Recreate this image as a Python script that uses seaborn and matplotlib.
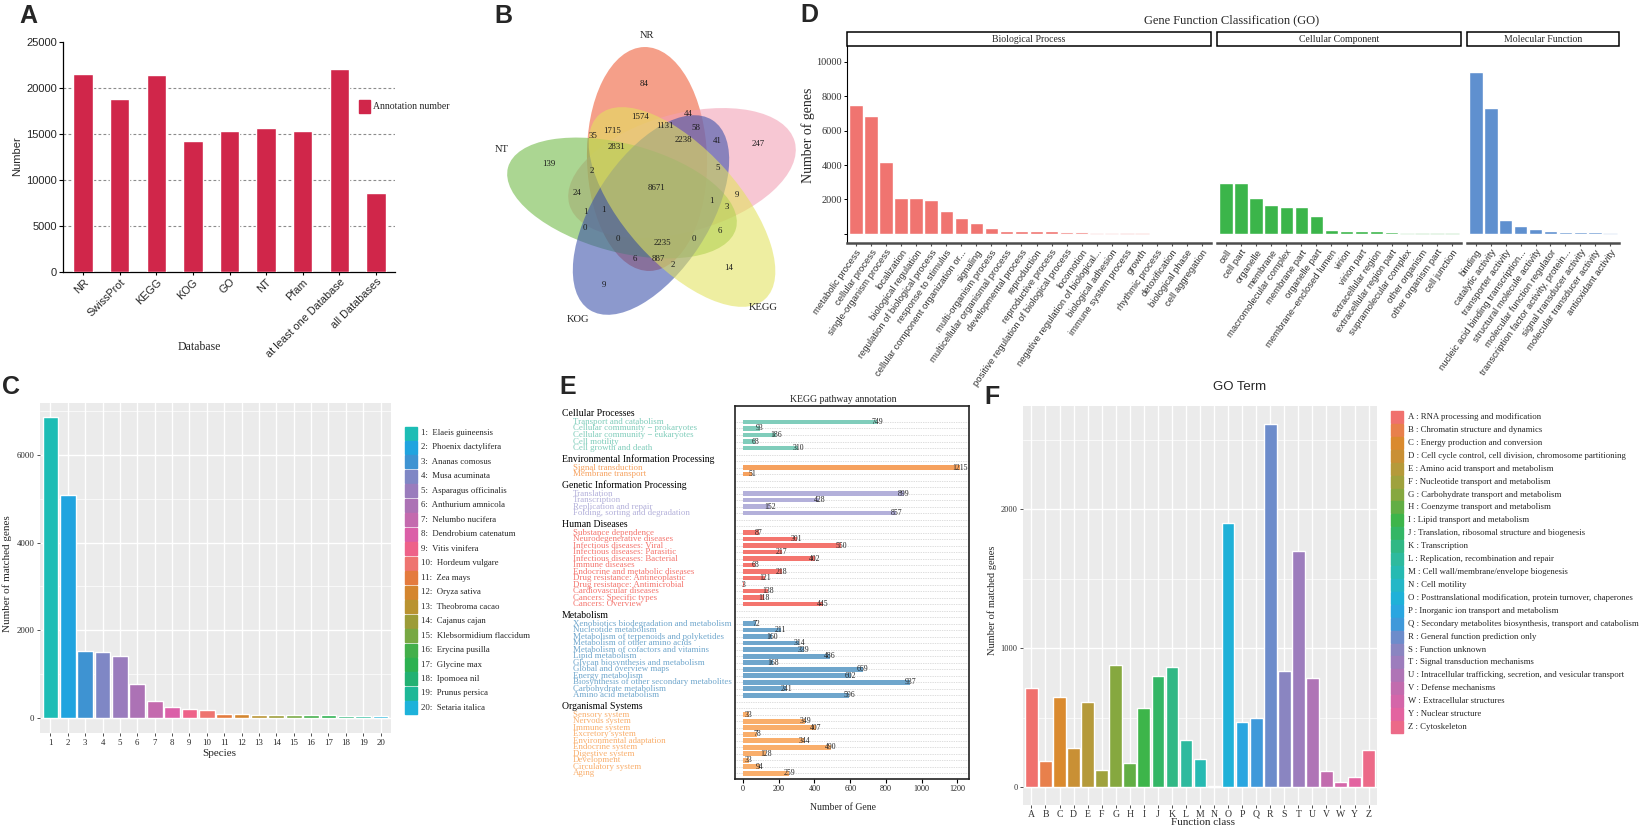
import numpy as np
import pandas as pd
import matplotlib
matplotlib.use("Agg")
import matplotlib.pyplot as plt
import matplotlib.transforms as mtransforms
from matplotlib.patches import Ellipse, Rectangle
from matplotlib.ticker import FixedLocator
import seaborn as sns

# ---------------------------------------------------------------- data
db_names = ["NR", "SwissProt", "KEGG", "KOG", "GO", "NT", "Pfam",
            "at least one Database", "all Databases"]
db_counts = [21560, 18770, 21380, 14200, 15330, 15690, 15330, 22100, 8590]

venn_names = ["NR", "NT", "KOG", "KEGG"]
venn_counts = [84, 1574, 44, 1131, 58, 35, 1715, 2238, 41, 2831, 139, 2, 5, 8671,
               24, 9, 1, 3, 1, 1, 0, 6, 0, 2235, 0, 6, 887, 2, 14, 9, 247]

species_names = ["Elaeis guineensis", "Phoenix dactylifera", "Ananas comosus",
                 "Musa acuminata", "Asparagus officinalis", "Anthurium amnicola",
                 "Nelumbo nucifera", "Dendrobium catenatum", "Vitis vinifera",
                 "Hordeum vulgare", "Zea mays", "Oryza sativa", "Theobroma cacao",
                 "Cajanus cajan", "Klebsormidium flaccidum", "Erycina pusilla",
                 "Glycine max", "Ipomoea nil", "Prunus persica", "Setaria italica"]
species_counts = [6860, 5080, 1520, 1500, 1420, 776, 395, 243, 198, 183,
                  99, 91, 76, 70, 68, 62, 60, 55, 52, 50]

bp_terms = ["metabolic process", "cellular process", "single-organism process",
            "localization", "biological regulation", "regulation of biological process",
            "response to stimulus", "cellular component organization or...", "signaling",
            "multi-organism process", "multicellular organismal process",
            "developmental process", "reproduction", "reproductive process",
            "positive regulation of biological process", "locomotion",
            "negative regulation of biological...", "biological adhesion",
            "immune system process", "growth", "rhythmic process", "detoxification",
            "biological phase", "cell aggregation"]
bp_counts = [7478, 6860, 4193, 2068, 2068, 1990, 1353, 908, 657, 348, 193, 174,
             155, 155, 97, 97, 77, 77, 58, 40, 20, 20, 15, 5]
cc_terms = ["cell", "cell part", "organelle", "membrane", "macromolecular complex",
            "membrane part", "organelle part", "membrane\u2212enclosed lumen", "virion",
            "virion part", "extracellular region", "extracellular region part",
            "supramolecular complex", "other organism", "other organism part",
            "cell junction"]
cc_counts = [2957, 2957, 2106, 1662, 1565, 1565, 1043, 251, 174, 174, 174, 135,
             77, 58, 58, 39]
mf_terms = ["binding", "catalytic activity", "transporter activity",
            "nucleic acid binding transcription...", "structural molecule activity",
            "molecular function regulator", "transcription factor activity, protein...",
            "signal transducer activity", "molecular transducer activity",
            "antioxidant activity"]
mf_counts = [9411, 7324, 792, 464, 309, 193, 116, 116, 116, 77]

kegg_groups = ["Cellular Processes", "Environmental Information Processing",
               "Genetic Information Processing", "Human Diseases", "Metabolism",
               "Organismal Systems"]
kegg_cp = ["Transport and catabolism", "Cellular community \u2212 prokaryotes",
           "Cellular community \u2212 eukaryotes", "Cell motility", "Cell growth and death"]
kegg_cp_n = [749, 93, 186, 68, 310]
kegg_eip = ["Signal transduction", "Membrane transport"]
kegg_eip_n = [1215, 51]
kegg_gip = ["Translation", "Transcription", "Replication and repair",
            "Folding, sorting and degradation"]
kegg_gip_n = [899, 428, 152, 857]
kegg_hd = ["Substance dependence", "Neurodegenerative diseases",
           "Infectious diseases: Viral", "Infectious diseases: Parasitic",
           "Infectious diseases: Bacterial", "Immune diseases",
           "Endocrine and metabolic diseases", "Drug resistance: Antineoplastic",
           "Drug resistance: Antimicrobial", "Cardiovascular diseases",
           "Cancers: Specific types", "Cancers: Overview"]
kegg_hd_n = [87, 301, 550, 217, 402, 68, 218, 121, 3, 138, 118, 445]
kegg_met = ["Xenobiotics biodegradation and metabolism", "Nucleotide metabolism",
            "Metabolism of terpenoids and polyketides", "Metabolism of other amino acids",
            "Metabolism of cofactors and vitamins", "Lipid metabolism",
            "Glycan biosynthesis and metabolism", "Global and overview maps",
            "Energy metabolism", "Biosynthesis of other secondary metabolites",
            "Carbohydrate metabolism", "Amino acid metabolism"]
kegg_met_n = [72, 211, 160, 314, 339, 486, 168, 669, 602, 937, 241, 596]
kegg_os = ["Sensory system", "Nervous system", "Immune system", "Excretory system",
           "Environmental adaptation", "Endocrine system", "Digestive system",
           "Development", "Circulatory system", "Aging"]
kegg_os_n = [33, 349, 407, 78, 344, 490, 128, 33, 94, 259]

kog_classes = list("ABCDEFGHIJKLMNOPQRSTUVWYZ")
kog_counts = [717, 189, 650, 283, 611, 127, 880, 173, 568, 799, 863, 341, 201, 10,
              1899, 472, 501, 2616, 839, 1698, 787, 120, 38, 74, 269]
kog_desc = ["RNA processing and modification", "Chromatin structure and dynamics",
            "Energy production and conversion",
            "Cell cycle control, cell division, chromosome partitioning",
            "Amino acid transport and metabolism", "Nucleotide transport and metabolism",
            "Carbohydrate transport and metabolism", "Coenzyme transport and metabolism",
            "Lipid transport and metabolism",
            "Translation, ribosomal structure and biogenesis", "Transcription",
            "Replication, recombination and repair",
            "Cell wall/membrane/envelope biogenesis", "Cell motility",
            "Posttranslational modification, protein turnover, chaperones",
            "Inorganic ion transport and metabolism",
            "Secondary metabolites biosynthesis, transport and catabolism",
            "General function prediction only", "Function unknown",
            "Signal transduction mechanisms",
            "Intracellular trafficking, secretion, and vesicular transport",
            "Defense mechanisms", "Extracellular structures", "Nuclear structure",
            "Cytoskeleton"]

# ---------------------------------------------------------------- colours
species_colors = ["#1DBDB5", "#20A4DF", "#3E93D2", "#7F87C5", "#9A7CBD", "#AC72B5",
                  "#C46AAE", "#DB5FA8", "#EE6289", "#EE7470", "#E47B3E", "#D4862F",
                  "#B99331", "#9C9C38", "#78A843", "#43AF4A", "#2DB150", "#22B172",
                  "#1DB897", "#1DB2DA"]
kog_colors = ["#F0716E", "#E8804C", "#DA8A2E", "#C99035", "#B59A3A", "#9FA23D",
              "#86A83F", "#62AE44", "#3DB54A", "#33B665", "#31B885", "#2EBA9E",
              "#26BAB2", "#24B7C7", "#1FB1D8", "#2AA6E0", "#3F99DA", "#6D8CCB",
              "#8A85C1", "#9D7DBD", "#AF74B6", "#C26CAE", "#D466A9", "#E363A0",
              "#EC6A88"]
go_colors = ["#F07470", "#3BB54A", "#5F90CF"]
kegg_colors = ["#80CDBB", "#F6A15E", "#B3B0DA", "#F4756E", "#6FA6CC", "#F9AE6B"]

# ---------------------------------------------------------------- style
sns.set_theme(style="white")
plt.rcParams["font.family"] = ["Liberation Sans", "DejaVu Sans"]
plt.rcParams["axes.unicode_minus"] = False
SERIF = ["Liberation Serif", "DejaVu Serif"]
SANS = ["Liberation Sans", "DejaVu Sans"]

W, H = 1641, 827
fig = plt.figure(figsize=(W / 100, H / 100), dpi=100)


def rect(x0, y0, x1, y1):
    return [x0 / W, 1 - y1 / H, (x1 - x0) / W, (y1 - y0) / H]


# overlay in pixel coordinates for free text / venn / legends
ov = fig.add_axes([0, 0, 1, 1], zorder=10)
ov.set_xlim(0, W)
ov.set_ylim(H, 0)
ov.axis("off")


def T(x, y, s, ha="center", va="center", **kw):
    ov.text(x, y, s, ha=ha, va=va, **kw)


for L, x, y in [("A", 28, 16), ("B", 503, 16), ("D", 809, 15),
                ("C", 11, 387), ("E", 568, 387), ("F", 992, 397)]:
    T(x, y, L, fontsize=18, fontweight="bold", family=SANS)

# ---------------------------------------------------------------- A
axA = fig.add_axes(rect(63, 42, 395, 272))
dfA = pd.DataFrame({"db": db_names, "n": db_counts})
sns.barplot(data=dfA, x="db", y="n", color="#D0264A", saturation=1, width=0.53,
            ax=axA, zorder=3)
axA.set_ylim(0, 25000)
axA.set_xlim(-0.55, 8.52)
for yv in (5000, 10000, 15000, 20000):
    axA.axhline(yv, color="#8C8C8C", lw=0.8, ls=(0, (2.5, 2)), zorder=1)
axA.set_yticks(range(0, 25001, 5000))
axA.tick_params(axis="y", labelsize=8, length=3, width=0.8, left=True, color="black", pad=1.5)
axA.tick_params(axis="x", labelsize=7.8, length=2.5, width=0.8, bottom=True, color="black", pad=1)
for lab in axA.get_xticklabels():
    lab.set_rotation(45)
    lab.set_ha("right")
    lab.set_rotation_mode("anchor")
sns.despine(ax=axA)
for s in ("left", "bottom"):
    axA.spines[s].set_color("black")
    axA.spines[s].set_linewidth(0.9)
axA.set_xlabel("")
axA.set_ylabel("")
T(17, 156, "Number", rotation=90, fontsize=8, family=SANS)
T(199, 347, "Database", fontsize=8.5, family=SERIF)
ov.add_patch(Rectangle((359, 100), 11, 13, color="#D0264A"))
T(373, 106.5, "Annotation number", ha="left", fontsize=7, family=SERIF)

# ---------------------------------------------------------------- B (venn)
venn_ellipses = [  # (cx, cy, major, minor, visual angle, colour)
    (647, 159, 224, 120, 91.5, "#EE5A34"),
    (682, 173, 234, 118, 15.6, "#F2A0B4"),
    (622, 198, 236, 108, -15.0, "#6EB944"),
    (651, 215, 226, 115, 57.0, "#3A50AA"),
    (682, 207, 248, 115, -48.0, "#E3E35D"),
]
for cx, cy, ma, mi, ang, col in venn_ellipses:
    ov.add_patch(Ellipse((cx, cy), ma, mi, angle=-ang, facecolor=col, alpha=0.58,
                         edgecolor="none"))
venn_xy = [(644, 84), (640, 117), (688, 114), (665, 126), (696, 128), (593, 136),
           (612, 131), (683, 140), (717, 141), (616, 147), (549, 164), (592, 171),
           (718, 168), (657, 188), (577, 193), (737, 195), (711, 201), (727, 207),
           (585, 212), (603, 210), (585, 228), (720, 231), (618, 239), (662, 243),
           (694, 239), (635, 259), (658, 259), (673, 265), (729, 268), (604, 285),
           (758, 144)]
for (x, y), n in zip(venn_xy, venn_counts):
    T(x, y, str(n), fontsize=6.3, family=SERIF, color="#1a1a1a")
for name, (x, y) in zip(venn_names, [(647, 35), (502, 149), (578, 320), (763, 307)]):
    T(x, y, name, fontsize=7.6, family=SERIF)

# ---------------------------------------------------------------- C
axC = fig.add_axes(rect(40, 403, 391, 733))
sp_idx = [str(i) for i in range(1, len(species_names) + 1)]
sp_leg = [f"{i}:  {n}" for i, n in zip(sp_idx, species_names)]
dfC = pd.DataFrame({"sp": sp_idx, "n": species_counts})
sns.barplot(data=dfC, x="sp", y="n", hue="sp", palette=species_colors, legend=False,
            width=0.9, saturation=1, ax=axC)
axC.set_facecolor("#EBEBEB")
axC.set_xlim(-0.6, 19.6)
axC.set_ylim(-342, 7186)
axC.set_yticks([0, 2000, 4000, 6000])
axC.yaxis.set_minor_locator(FixedLocator([1000, 3000, 5000, 7000]))
axC.grid(True, which="major", color="white", lw=1.0)
axC.grid(True, which="minor", axis="y", color="white", lw=0.5)
axC.set_axisbelow(True)
for s in axC.spines.values():
    s.set_visible(False)
axC.tick_params(which="major", labelsize=6.3, length=2.5, color="#333333", width=0.6,
                bottom=True, left=True, pad=1.5)
axC.tick_params(which="minor", length=0)
for lab in axC.get_xticklabels() + axC.get_yticklabels():
    lab.set_fontfamily(SERIF)
axC.set_xlabel("")
axC.set_ylabel("")
T(7, 574, "Number of matched genes", rotation=90, fontsize=8, family=SERIF)
T(219, 754, "Species", fontsize=8, family=SERIF)
for i, (lab, col) in enumerate(zip(sp_leg, species_colors)):
    y = 433 + 14.47 * i
    ov.add_patch(Rectangle((405, y - 6.5), 12, 13, color=col))
    T(421, y, lab, ha="left", fontsize=6.3, family=SERIF)

# ---------------------------------------------------------------- D
T(1232, 20, "Gene Function Classification (GO)", fontsize=9, family=SERIF)
T(808, 135, "Number of genes", rotation=90, fontsize=10, family=SERIF)
d_panels = [("Biological Process", bp_terms, bp_counts, 847, 1211, go_colors[0]),
            ("Cellular Component", cc_terms, cc_counts, 1217, 1461, go_colors[1]),
            ("Molecular Function", mf_terms, mf_counts, 1467, 1619, go_colors[2])]
for k, (strip, terms, counts, x0, x1, col) in enumerate(d_panels):
    ax = fig.add_axes(rect(x0, 46, x1, 243))
    df = pd.DataFrame({"term": terms, "n": counts})
    sns.barplot(data=df, x="term", y="n", color=col, width=0.9, saturation=1, ax=ax)
    for p, v in zip(ax.patches, counts):
        p.set_alpha(float(np.clip(v / 100.0, 0.12, 1.0)))
    ax.set_ylim(-522, 10899)
    ax.set_xlim(-0.6, len(terms) - 0.4)
    ax.spines["top"].set_visible(False)
    ax.spines["right"].set_visible(False)
    ax.spines["bottom"].set_color("#4D4D4D")
    ax.spines["bottom"].set_linewidth(1.8)
    if k == 0:
        ax.set_yticks(range(0, 10001, 2000))
        ax.set_yticklabels([""] + [str(v) for v in range(2000, 10001, 2000)])
        ax.spines["left"].set_color("black")
        ax.spines["left"].set_linewidth(0.8)
        ax.tick_params(axis="y", left=True, length=2.5, width=0.7, color="black",
                       labelsize=7.4, labelcolor="#333333", pad=1)
        for lab in ax.get_yticklabels():
            lab.set_fontfamily(SERIF)
    else:
        ax.set_yticks([])
        ax.spines["left"].set_visible(False)
    ax.tick_params(axis="x", bottom=True, length=2.5, width=0.8, color="#4D4D4D",
                   labelsize=6.8, labelcolor="#333333", pad=1)
    for lab in ax.get_xticklabels():
        lab.set_rotation(55)
        lab.set_ha("right")
        lab.set_rotation_mode("anchor")
    ax.set_xlabel("")
    ax.set_ylabel("")
    ov.add_patch(Rectangle((x0, 32), x1 - x0, 14, fill=False, edgecolor="black", lw=1.1))
    T((x0 + x1) / 2, 39, strip, fontsize=7, family=SERIF)

# ---------------------------------------------------------------- E
axE = fig.add_axes(rect(735, 406, 969, 779))
e_terms = [kegg_cp, kegg_eip, kegg_gip, kegg_hd, kegg_met, kegg_os]
e_vals = [kegg_cp_n, kegg_eip_n, kegg_gip_n, kegg_hd_n, kegg_met_n, kegg_os_n]
rows, vals, grps, names = [], [], [], []
header_rows = []
r = 0
for g, terms, counts in zip(kegg_groups, e_terms, e_vals):
    header_rows.append(r - 1.3)
    for t, c in zip(terms, counts):
        rows.append(r)
        vals.append(c)
        grps.append(g)
        names.append(t)
        r += 1
    r += 2
n_rows = rows[-1] + 1
row_keys = [f"r{i}" for i in range(n_rows)]
dfE = pd.DataFrame({"row": [row_keys[i] for i in rows], "n": vals, "group": grps})
sns.barplot(data=dfE, x="n", y="row", order=row_keys, hue="group",
            hue_order=kegg_groups, palette=kegg_colors, orient="h", dodge=False,
            width=0.75, saturation=1, legend=False, ax=axE, zorder=3)
BAR_H = 0.74
for p in axE.patches:
    cy = p.get_y() + p.get_height() / 2
    p.set_height(BAR_H)
    p.set_y(cy - BAR_H / 2)
    p.set_linewidth(0)
axE.set_ylim(n_rows - 0.1, -2.46)
axE.set_xlim(-45, 1265)
axE.set_yticks(range(n_rows))
axE.set_yticklabels([])
axE.tick_params(axis="y", length=0, left=False)
axE.grid(False)
axE.grid(True, axis="y", color="#BDBDBD", lw=0.5, ls=(0, (1, 1.5)))
axE.set_axisbelow(True)
axE.set_xticks(range(0, 1201, 200))
axE.tick_params(axis="x", labelsize=5.9, length=3, width=0.8, bottom=True, color="black", pad=1.5)
for lab in axE.get_xticklabels():
    lab.set_fontfamily(SERIF)
for s in axE.spines.values():
    s.set_visible(True)
    s.set_color("#222222")
    s.set_linewidth(1.2)
axE.set_xlabel("")
axE.set_ylabel("")
for rw, v in zip(rows, vals):
    axE.text(v, rw, str(v), ha="center", va="center", fontsize=5.6, family=SERIF,
             clip_on=True, zorder=4)
transE = mtransforms.blended_transform_factory(fig.transFigure, axE.transData)
for g, hr in zip(kegg_groups, header_rows):
    axE.text(562 / W, hr, g, transform=transE, ha="left", va="center", fontsize=7,
             family=SERIF, color="black")
gcol = dict(zip(kegg_groups, kegg_colors))
for rw, t, g in zip(rows, names, grps):
    axE.text(573 / W, rw, t, transform=transE, ha="left", va="center", fontsize=6.4,
             family=SERIF, color=gcol[g])
T(843, 400, "KEGG pathway annotation", fontsize=7, family=SERIF)
T(843, 807, "Number of Gene", fontsize=7, family=SERIF)

# ---------------------------------------------------------------- F
axF = fig.add_axes(rect(1023, 406, 1377, 805))
dfF = pd.DataFrame({"cls": kog_classes, "n": kog_counts})
sns.barplot(data=dfF, x="cls", y="n", hue="cls", palette=kog_colors, legend=False,
            width=0.9, saturation=1, ax=axF)
axF.set_facecolor("#EBEBEB")
axF.set_xlim(-0.6, len(kog_classes) - 0.4)
axF.set_ylim(-127, 2743)
axF.set_yticks([0, 1000, 2000])
axF.yaxis.set_minor_locator(FixedLocator([500, 1500, 2500]))
axF.grid(True, which="major", color="white", lw=1.0)
axF.grid(True, which="minor", axis="y", color="white", lw=0.5)
axF.set_axisbelow(True)
for s in axF.spines.values():
    s.set_visible(False)
axF.tick_params(which="major", length=2.5, color="#333333", width=0.6,
                bottom=True, left=True, pad=1.5)
axF.tick_params(axis="x", labelsize=7, pad=0.8)
axF.tick_params(axis="y", labelsize=6)
axF.tick_params(which="minor", length=0)
for lab in axF.get_xticklabels() + axF.get_yticklabels():
    lab.set_fontfamily(SERIF)
    lab.set_color("#333333")
axF.set_xlabel("")
axF.set_ylabel("")
T(1240, 387, "GO Term", fontsize=9.5, family=SANS)
T(992, 600, "Number of matched genes", rotation=90, fontsize=7.5, family=SERIF)
T(1203, 822.5, "Function class", fontsize=8, family=SERIF)
for i, (c, d, col) in enumerate(zip(kog_classes, kog_desc, kog_colors)):
    y = 417 + 12.92 * i
    ov.add_patch(Rectangle((1391, y - 6), 12, 12, color=col))
    T(1408, y, f"{c} : {d}", ha="left", fontsize=6.3, family=SERIF)

fig.savefig("out.png", dpi=100)
